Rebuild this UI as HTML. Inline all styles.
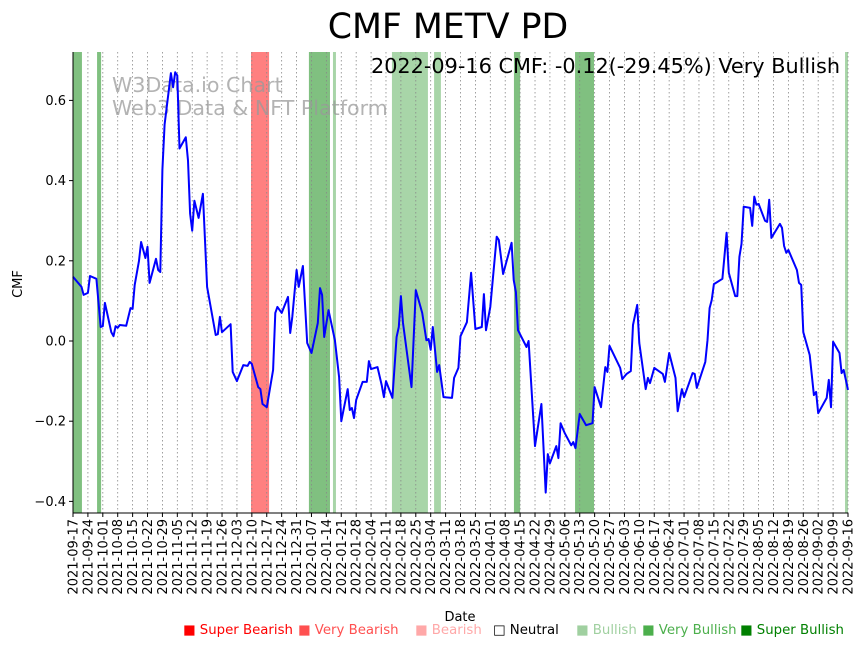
<!DOCTYPE html>
<html><head><meta charset="utf-8"><style>
body{margin:0;background:#fff;}
svg{display:block;font-family:"DejaVu Sans","Liberation Sans",sans-serif;}
</style></head><body>
<svg id="chart" width="864" height="646" viewBox="0 0 864 646" xmlns="http://www.w3.org/2000/svg">
<rect width="864" height="646" fill="#fff"/>
<text x="448" y="38" font-size="34.7" text-anchor="middle" fill="#000">CMF METV PD</text>
<g id="bands"></g>
<g id="grid"></g>
<g fill="#999" fill-opacity="0.75" font-size="20.6">
<text x="112" y="92">W3Data.io Chart</text>
<text x="112" y="115">Web3 Data &amp; NFT Platform</text>
</g>
<g id="series"></g>
<text x="840" y="73" font-size="20.8" text-anchor="end" fill="#000">2022-09-16 CMF: -0.12(-29.45%) Very Bullish</text>
<g id="axes"></g>
<text x="460" y="621" font-size="13" text-anchor="middle">Date</text>
<text x="22" y="284" font-size="13" text-anchor="middle" transform="rotate(-90 22 284)">CMF</text>
<g font-size="13.3">
<g><text x="183" y="634" fill="#ff0000">■ Super Bearish</text></g>
<g><text x="298" y="634" fill="#ff5050">■ Very Bearish</text></g>
<g><text x="415" y="634" fill="#ffa8a8">■ Bearish</text></g>
<g><text x="493" y="634" fill="#000">□ Neutral</text></g>
<g><text x="576" y="634" fill="#a0d0a0">■ Bullish</text></g>
<g><text x="642" y="634" fill="#4caf4c">■ Very Bullish</text></g>
<g><text x="740" y="634" fill="#008000">■ Super Bullish</text></g>
</g>
</svg>
<script>
const dayOffsets=[0,4,5,7,8,11,13,14,15,18,19,20,21,22,25,27,28,29,31,32,34,35,36,39,40,41,42,43,46,47,48,49,50,53,54,55,56,57,59,61,63,67,68,69,70,74,75,77,80,82,83,84,87,88,89,91,94,95,96,98,101,102,103,105,106,108,110,112,115,116,117,118,120,123,125,126,129,130,131,132,133,136,138,139,140,143,145,146,147,150,152,153,154,155,159,161,164,166,167,168,169,171,172,174,178,179,181,182,185,187,189,192,193,194,196,199,200,202,206,207,208,209,213,214,217,220,222,223,224,227,228,229,231,234,235,236,238,241,244,245,248,250,251,252,257,258,260,262,263,265,266,269,270,271,273,277,278,280,283,284,286,287,291,292,293,297,298,299,300,301,305,307,308,311,312,313,314,315,318,319,320,321,322,325,326,327,328,332,333,334,335,336,340,341,342,343,346,348,349,350,354,355,356,357,360,361,362,364];
const cmfValues=[0.16,0.135,0.115,0.12,0.162,0.155,0.035,0.037,0.095,0.022,0.012,0.037,0.033,0.04,0.038,0.082,0.08,0.14,0.2,0.247,0.207,0.235,0.145,0.205,0.177,0.172,0.427,0.54,0.668,0.633,0.67,0.662,0.48,0.508,0.45,0.318,0.275,0.35,0.307,0.367,0.135,0.015,0.017,0.06,0.022,0.042,-0.077,-0.1,-0.06,-0.062,-0.052,-0.057,-0.115,-0.12,-0.157,-0.165,-0.072,0.07,0.085,0.07,0.11,0.02,0.06,0.177,0.135,0.187,-0.005,-0.03,0.045,0.132,0.115,0.01,0.077,0.002,-0.09,-0.2,-0.12,-0.172,-0.167,-0.192,-0.147,-0.102,-0.102,-0.05,-0.07,-0.065,-0.11,-0.14,-0.1,-0.142,0.01,0.035,0.112,0.045,-0.115,0.127,0.07,0.002,0.005,-0.022,0.035,-0.077,-0.06,-0.14,-0.142,-0.092,-0.067,0.012,0.047,0.17,0.03,0.035,0.117,0.027,0.085,0.26,0.252,0.167,0.245,0.152,0.122,0.027,-0.015,0.0,-0.262,-0.157,-0.378,-0.282,-0.305,-0.262,-0.292,-0.205,-0.23,-0.26,-0.252,-0.267,-0.182,-0.21,-0.205,-0.115,-0.165,-0.065,-0.077,-0.012,-0.067,-0.095,-0.082,-0.075,0.04,0.09,-0.005,-0.12,-0.092,-0.105,-0.067,-0.082,-0.102,-0.03,-0.092,-0.175,-0.12,-0.14,-0.08,-0.082,-0.117,-0.052,0.002,0.082,0.102,0.142,0.155,0.27,0.17,0.112,0.112,0.21,0.242,0.335,0.332,0.287,0.36,0.34,0.342,0.3,0.297,0.352,0.257,0.292,0.282,0.237,0.22,0.227,0.177,0.145,0.14,0.022,-0.035,-0.135,-0.127,-0.18,-0.142,-0.097,-0.165,-0.002,-0.03,-0.08,-0.072,-0.122];
const bandStarts=[0,11.3,83.6,110.8,122.1,149.8,169.6,207.1,235.8,362.6];
const bandEnds=[4.2,13.2,92.1,120.7,123.5,166.7,172.8,210,244.7,364];
const bandKinds=["very-bullish","very-bullish","very-bearish","very-bullish","bullish","bullish","bullish","very-bullish","very-bullish","bullish"];
const yTicks=[-0.4,-0.2,0.0,0.2,0.4,0.6];
const yTickLabels=["−0.4","−0.2","0.0","0.2","0.4","0.6"];
const startDate=new Date(Date.UTC(2021,8,17));
const xTickDays=[];const xTickLabels=[];
for(let i=0;i<=52;i++){xTickDays.push(i*7);const d=new Date(startDate.getTime()+i*7*86400000);xTickLabels.push(d.toISOString().slice(0,10));}

const NS="http://www.w3.org/2000/svg";
const L=73,R=848,T=52,B=513;
const xs=d=>L+d*(R-L)/364;
const ys=v=>341-v*401;
function mk(tag,attrs,parent){const e=document.createElementNS(NS,tag);for(const k in attrs)e.setAttribute(k,attrs[k]);parent.appendChild(e);return e;}
const colors={"very-bullish":"#80c080","bullish":"#a8d5a8","very-bearish":"#ff8080"};
const bandsG=document.getElementById('bands');
bandStarts.forEach((s,i)=>{
 const r=mk('rect',{x:xs(s),y:T,width:xs(bandEnds[i])-xs(s),height:B-T,fill:colors[bandKinds[i]]},bandsG);
 
 
});
const gridG=document.getElementById('grid');
const axesG=document.getElementById('axes');
xTickDays.forEach((d,i)=>{
 const x=xs(d);
 const g=mk('line',{x1:x,x2:x,y1:T,y2:B,stroke:'#888','stroke-width':0.8,'stroke-dasharray':'1.5,2.5'},gridG);
 
 
 mk('line',{x1:x,x2:x,y1:B,y2:B+4,stroke:'#000','stroke-width':1},axesG);
 const t=mk('text',{x:0,y:0,'font-size':13,'text-anchor':'end',transform:`translate(${x+4.5},${B+6}) rotate(-90)`},axesG);
 t.textContent=xTickLabels[i];
 
 
});
yTicks.forEach((v,i)=>{
 const y=ys(v);
 mk('line',{x1:L-4,x2:L,y1:y,y2:y,stroke:'#000','stroke-width':1},axesG);
 const t=mk('text',{x:L-7,y:y+4.5,'font-size':13,'text-anchor':'end'},axesG);
 t.textContent=yTickLabels[i];
 
 
});
const sp1=mk('line',{x1:L,x2:L,y1:T,y2:B,stroke:'#000','stroke-width':1},axesG);


const sp2=mk('line',{x1:L,x2:R,y1:B,y2:B,stroke:'#000','stroke-width':1},axesG);


const pts=dayOffsets.map((d,i)=>xs(d).toFixed(1)+','+ys(cmfValues[i]).toFixed(1)).join(' ');
const line=mk('polyline',{points:pts,fill:'none',stroke:'#0000ff','stroke-width':2,'stroke-linejoin':'round'},document.getElementById('series'));


</script>
</body></html>
